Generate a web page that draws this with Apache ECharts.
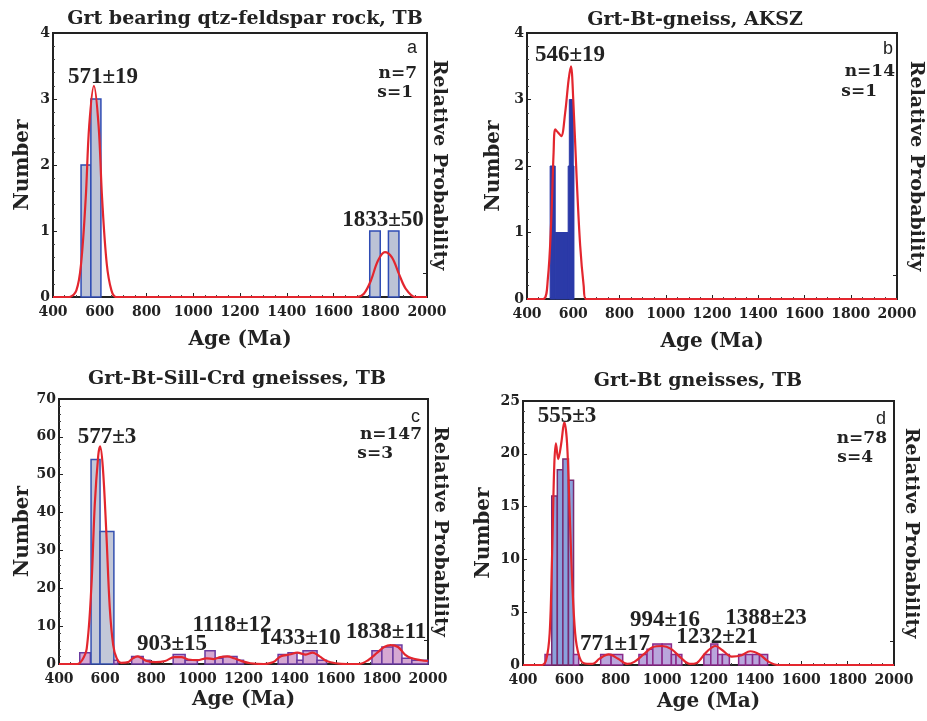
<!DOCTYPE html>
<html>
<head>
<meta charset="utf-8">
<script src="https://cdn.jsdelivr.net/npm/echarts@6/dist/echarts.min.js"></script>
<style>
  html, body { margin: 0; padding: 0; background: #fff; }
  #main { width: 927px; height: 721px; }
</style>
</head>
<body>
<div id="main"></div>
<script>
// histogram bins: [start Ma, end Ma, count]
var binsA = [[520, 562, 2], [562, 605, 3], [1755, 1800, 1], [1835, 1880, 1]];
var binsB = [[500, 522, 2], [522, 560, 1], [560, 578, 1], [578, 603, 2], [583, 600, 3]];
var binsC = [[490, 536, 3], [539, 578, 54], [578, 638, 35], [638, 655, 1],
  [715, 765, 2], [765, 795, 1], [895, 947, 2.5], [947, 1000, 1], [1033, 1077, 3.5], [1077, 1111, 1.5],
  [1111, 1172, 2], [1172, 1200, 1], [1350, 1393, 2.5], [1393, 1432, 3], [1432, 1458, 1],
  [1458, 1519, 3.5], [1519, 1560, 1], [1757, 1800, 3.5], [1800, 1848, 4.5], [1848, 1887, 5],
  [1887, 1930, 1.5], [1930, 2000, 1]];
var binsD = [[495, 524, 1], [524, 548, 16], [548, 572, 18.5], [572, 596, 19.5], [596, 618, 17.5], [618, 640, 1],
  [735, 780, 1], [780, 830, 1], [900, 935, 1], [935, 960, 1.5], [960, 1000, 2], [1000, 1040, 2],
  [1040, 1060, 1], [1060, 1085, 1], [1180, 1210, 1], [1210, 1240, 2], [1240, 1260, 1], [1260, 1290, 1],
  [1330, 1360, 1], [1360, 1390, 1], [1390, 1420, 1], [1420, 1455, 1]];

// probability density curves (in Number units)
var curveA = [[400, 0], [470, 0], [500, 0.1], [520, 0.5], [540, 1.5], [555, 2.6], [575, 3.2], [595, 2.6],
  [610, 1.5], [630, 0.5], [650, 0.1], [670, 0], [1700, 0], [1730, 0.05], [1760, 0.25], [1790, 0.55],
  [1820, 0.68], [1850, 0.6], [1880, 0.35], [1910, 0.12], [1950, 0], [2000, 0]];
var curveB = [[400, 0], [470, 0], [490, 0.3], [505, 1.2], [515, 2.2], [522, 2.55], [535, 2.5], [548, 2.45],
  [565, 2.8], [580, 3.3], [590, 3.5], [600, 3.0], [615, 1.8], [630, 0.8], [645, 0.2], [655, 0], [2000, 0]];
var curveC = [[400, 0], [480, 0], [500, 1], [520, 4], [540, 20], [555, 42], [570, 55], [578, 57.5], [590, 52],
  [605, 35], [620, 15], [635, 5], [650, 1.5], [670, 0.3], [700, 0.5], [720, 1.5], [740, 2], [760, 1.5],
  [780, 0.8], [820, 0.5], [860, 0.8], [900, 1.8], [930, 1.8], [960, 1.2], [1000, 1], [1040, 1.5],
  [1070, 1.3], [1100, 1.8], [1130, 2], [1160, 1.5], [1190, 0.8], [1230, 0.2], [1290, 0], [1330, 0.5],
  [1360, 2], [1400, 2.5], [1433, 3], [1470, 2.5], [1500, 3], [1530, 2], [1560, 0.8], [1600, 0.2],
  [1650, 0], [1700, 0], [1740, 1], [1780, 3], [1810, 4.5], [1838, 5], [1870, 4.5], [1900, 2.5],
  [1930, 1.5], [1970, 1], [2000, 0.8]];
var curveD = [[400, 0], [480, 0], [500, 0.5], [515, 3], [525, 10], [535, 19], [542, 21], [552, 19.5],
  [565, 21], [578, 23], [590, 21], [602, 14], [612, 8], [625, 3], [640, 1], [660, 0.2], [700, 0.1],
  [730, 0.6], [770, 1], [810, 0.6], [850, 0.1], [880, 0.3], [920, 1], [960, 1.7], [1000, 1.8],
  [1040, 1.5], [1080, 0.7], [1120, 0.1], [1150, 0.2], [1190, 1.2], [1230, 1.8], [1260, 1.4],
  [1300, 0.8], [1340, 0.9], [1380, 1.3], [1420, 1], [1460, 0.3], [1500, 0], [2000, 0]];

var titles = ['Grt bearing qtz-feldspar rock, TB', 'Grt-Bt-gneiss, AKSZ', 'Grt-Bt-Sill-Crd gneisses, TB', 'Grt-Bt gneisses, TB'];
var yMax = [4, 4, 70, 25];
var yStep = [1, 1, 10, 5];
var panelLetters = ['a', 'b', 'c', 'd'];
var nLabels = ['n=7', 'n=14', 'n=147', 'n=78'];
var sLabels = ['s=1', 's=1', 's=3', 's=4'];
var peakLabels = [
  [['571±19', 103, 77], ['1833±50', 383, 220]],
  [['546±19', 570, 55]],
  [['577±3', 107, 437], ['903±15', 172, 644], ['1118±12', 232, 625], ['1433±10', 300, 638], ['1838±11', 386, 632]],
  [['555±3', 567, 416], ['771±17', 615, 644], ['994±16', 665, 620], ['1232±21', 717, 637], ['1388±23', 766, 618]]
];

var serif = '"Liberation Serif", serif';
var wide = '"DejaVu Serif", serif';
var grids = [
  { left: 53, top: 33, width: 374, height: 264 },
  { left: 527, top: 33, width: 370, height: 266 },
  { left: 59, top: 399, width: 369, height: 265 },
  { left: 523, top: 401, width: 371, height: 264 }
];
var titlePos = [[240, 5], [690, 6], [232, 365], [693, 367]];
// per-panel layout: [numberGap, ageGap, probGap, letterTop, letterRight, nTop, nRight, sTop, sRight]
var layout = [
  [20, 33, 2, 6, 10, 32, 10, 51, 14],
  [23, 33, 9, 7, 4, 30, 2, 50, 20],
  [26, 26, 2, 9, 8, 27, 6, 46, 35],
  [29, 27, 7, 9, 8, 29, 7, 48, 21]
];

var allBins = [binsA, binsB, binsC, binsD];
var allCurves = [curveA, curveB, curveC, curveD];

function barStyle(panel, count) {
  if (panel === 1) return { fill: '#2b3aa8', stroke: '#2b3aa8', lineWidth: 1 };
  if (panel === 2) {
    return count < 6 ? { fill: '#d6a8d2', stroke: '#6a3aa0', lineWidth: 1.5 }
                     : { fill: '#c3c8d8', stroke: '#3550b0', lineWidth: 1.5 };
  }
  if (panel === 3) {
    return count < 3 ? { fill: '#b9a6dc', stroke: '#8a2a8a', lineWidth: 1.5 }
                     : { fill: '#8aa2dc', stroke: '#7a2a70', lineWidth: 1.5 };
  }
  return { fill: '#bcc3d6', stroke: '#2f4cb4', lineWidth: 1.5 };
}

var gridList = [], xAxes = [], yAxes = [], series = [], titleList = [], graphics = [];
grids.forEach(function (g, i) {
  var L = layout[i];
  gridList.push(Object.assign({ show: true, borderColor: '#222', borderWidth: 2 }, g));
  titleList.push({
    text: titles[i], left: titlePos[i][0], top: titlePos[i][1], textAlign: 'center',
    textStyle: { fontFamily: wide, fontWeight: 'bold', fontSize: 19, color: '#222' }
  });
  xAxes.push({
    gridIndex: i, type: 'value', min: 400, max: 2000, interval: 200,
    name: 'Age (Ma)', nameLocation: 'middle', nameGap: L[1],
    nameTextStyle: { fontFamily: wide, fontWeight: 'bold', fontSize: 20, color: '#222' },
    axisLine: { lineStyle: { color: '#222', width: 2 } },
    axisTick: { inside: true, length: 4, lineStyle: { color: '#222' } },
    minorTick: { show: true, splitNumber: 4, length: 2, lineStyle: { color: '#444' } },
    axisLabel: { fontFamily: wide, fontWeight: 'bold', fontSize: 14, color: '#222', margin: 8,
      formatter: function (v) { return String(v); } },
    splitLine: { show: false }
  });
  yAxes.push({
    gridIndex: i, type: 'value', min: 0, max: yMax[i], interval: yStep[i],
    name: 'Number', nameLocation: 'middle', nameGap: L[0],
    nameTextStyle: { fontFamily: wide, fontWeight: 'bold', fontSize: 20, color: '#222' },
    axisLine: { show: true, lineStyle: { color: '#222', width: 2 } },
    axisTick: { show: true, inside: true, length: 4, lineStyle: { color: '#222' } },
    minorTick: { show: true, splitNumber: 5, length: 2, lineStyle: { color: '#444' } },
    axisLabel: { fontFamily: wide, fontWeight: 'bold', fontSize: 14, color: '#222', margin: 3 },
    splitLine: { show: false }
  });
  yAxes.push({
    gridIndex: i, type: 'value', min: 0, max: 1, position: 'right',
    name: 'Relative Probability', nameLocation: 'middle', nameRotate: -90, nameGap: L[2],
    nameTextStyle: { fontFamily: wide, fontWeight: 'bold', fontSize: 19, color: '#222' },
    axisLine: { show: true, onZero: false, lineStyle: { color: '#222', width: 2 } },
    axisTick: { show: true, inside: true, length: 4, customValues: [0.09], lineStyle: { color: '#222' } },
    axisLabel: { show: false }, splitLine: { show: false }
  });

  series.push({
    type: 'custom', xAxisIndex: i, yAxisIndex: i * 2, data: allBins[i],
    encode: { x: [0, 1], y: 2 },
    renderItem: (function (panel) {
      return function (params, api) {
        var p0 = api.coord([api.value(0), 0]);
        var p1 = api.coord([api.value(1), api.value(2)]);
        return {
          type: 'rect',
          shape: { x: p0[0], y: p1[1], width: p1[0] - p0[0], height: p0[1] - p1[1] },
          style: barStyle(panel, api.value(2))
        };
      };
    })(i)
  });
  series.push({
    type: 'line', xAxisIndex: i, yAxisIndex: i * 2, data: allCurves[i],
    smooth: 0.35, symbol: 'none', z: 5,
    lineStyle: { color: '#e3262e', width: 2.2 }
  });

  var textStyle = { fontFamily: wide, fontWeight: 'bold', fontSize: 17, fill: '#222' };
  var right = g.left + g.width;
  graphics.push({ type: 'text', x: right - L[4], y: g.top + L[3], style: { text: panelLetters[i], fontFamily: 'Liberation Sans, Arial, sans-serif', fontSize: 18, fill: '#222', textAlign: 'right' } });
  graphics.push({ type: 'text', x: right - L[6], y: g.top + L[5], style: Object.assign({ text: nLabels[i], textAlign: 'right' }, textStyle) });
  graphics.push({ type: 'text', x: right - L[8], y: g.top + L[7], style: Object.assign({ text: sLabels[i], textAlign: 'right' }, textStyle) });
  peakLabels[i].forEach(function (pl) {
    graphics.push({ type: 'text', x: pl[1], y: pl[2], z: 10,
      style: { text: pl[0], textAlign: 'center', textVerticalAlign: 'middle', fontFamily: serif, fontWeight: 'bold', fontSize: 23, fill: '#222' } });
  });
});

var chart = echarts.init(document.getElementById('main'));
chart.setOption({
  animation: false,
  backgroundColor: '#fff',
  title: titleList,
  grid: gridList,
  xAxis: xAxes,
  yAxis: yAxes,
  series: series,
  graphic: graphics
});
</script>
</body>
</html>
